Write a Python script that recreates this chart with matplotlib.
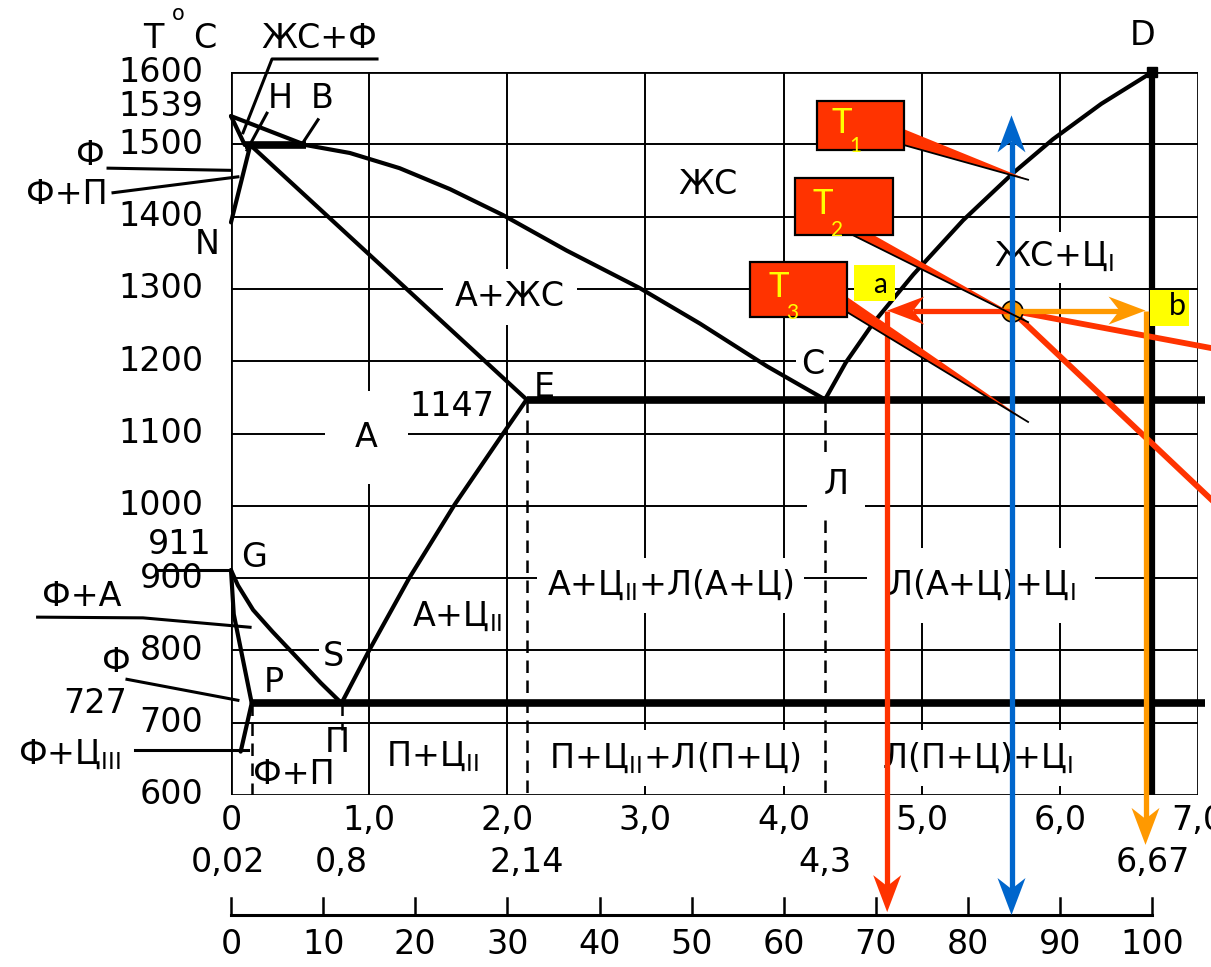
import matplotlib
matplotlib.use("Agg")
import matplotlib.pyplot as plt
import numpy as np
from matplotlib.patches import Polygon, Rectangle
from matplotlib.lines import Line2D
from matplotlib.transforms import IdentityTransform

plt.rcParams['font.family'] = ['DejaVu Sans']
plt.rcParams['mathtext.fontset'] = 'dejavusans'

# ---------------- data ----------------
temp_ticks = [1600, 1539, 1500, 1400, 1300, 1200, 1100, 1000, 911, 900, 800, 727, 700, 600]
c_ticks = [0, 1, 2, 3, 4, 5, 6, 7]
c_tick_labels = ['0', '1,0', '2,0', '3,0', '4,0', '5,0', '6,0', '7,0']
c_points = [0.02, 0.8, 2.14, 4.3, 6.67]
c_point_labels = ['0,02', '0,8', '2,14', '4,3', '6,67']
fe3c_ticks = [0, 10, 20, 30, 40, 50, 60, 70, 80, 90, 100]
fe3c_max_c = 6.67

grid_x = [1, 2, 3, 4, 5, 6]
grid_y = [700, 800, 900, 1000, 1100, 1200, 1300, 1400, 1500]

# phase boundaries (wt% C, deg C)
AB_x, AB_y = [0, 0.54], [1539, 1499]
AH_x, AH_y = [0, 0.10], [1539, 1499]
HB_x, HB_y = [0.10, 0.54], [1499, 1499]
NJ_x, NJ_y = [0, 0.14], [1392, 1499]
JE_x, JE_y = [0.14, 2.14], [1499, 1147]
BC_x = [0.54, 0.86, 1.22, 1.585, 1.97, 2.43, 2.96, 3.395, 3.88, 4.3]
BC_y = [1499, 1488, 1467, 1438, 1402, 1353, 1301, 1252, 1193, 1147]
CD_x = [4.3, 4.45, 4.65, 4.94, 5.3, 5.66, 5.95, 6.3, 6.67]
CD_y = [1147, 1198, 1253, 1320, 1395, 1460, 1507, 1556, 1600]
ES_x = [0.8, 1.0, 1.29, 1.62, 1.97, 2.14]
ES_y = [727, 800, 900, 1002, 1100, 1147]
GS_x = [0, 0.05, 0.16, 0.30, 0.478, 0.65, 0.8]
GS_y = [911, 890, 856, 826, 790, 755, 727]
GP_x, GP_y = [0, 0.02, 0.15], [911, 850, 727]
PQ_x, PQ_y = [0.15, 0.07], [727, 660]
ECF_x, ECF_y = [2.14, 7.05], [1147, 1147]
PSK_x, PSK_y = [0.15, 7.05], [727, 727]
DL_x, DL_y = [6.67, 6.67], [600, 1600]
dashed_E = ([2.14, 2.14], [1147, 600])
dashed_C = ([4.3, 4.3], [1147, 600])
dashed_P = ([0.15, 0.15], [727, 600])
dashed_S = ([0.8, 0.8], [727, 690])

# overlay (alloy analysis)
alloy_c = 5.65
T2 = 1270
liquid_c = 4.75          # point a
solid_c = 6.62           # point b
T_top = 1540
T_bottom_scale = 434
orange_tip = 531
leader_ends = [(7.10, 1218), (7.10, 1008)]
callouts = [  # label, box x0,x1,y0,y1, base pts, tip
    ('1', (4.24, 4.87, 1492, 1560), [(4.87, 1521), (4.87, 1499)], (5.77, 1451)),
    ('2', (4.08, 4.79, 1375, 1453), [(4.647, 1375), (4.495, 1375)], (5.77, 1254)),
    ('3', (3.76, 4.46, 1261, 1337), [(4.459, 1289), (4.459, 1268)], (5.77, 1116)),
]

RED = '#FF3300'
ORANGE = '#FF9900'
BLUE = '#0066CC'
YEL = '#FFFF00'

fig = plt.figure(figsize=(12.11, 9.67), dpi=100)
ax = fig.add_axes([231/1211, 1-795/967, 967/1211, 723/967])
ax.set_xlim(0, 7)
ax.set_ylim(600, 1600)
ax.set_axis_off()

K = 'black'
# frame
ax.plot([0, 7, 7, 0, 0], [600, 600, 1600, 1600, 600], color=K, lw=2.0, zorder=1,
        solid_joinstyle='miter')
# grid
for gx in grid_x:
    ax.plot([gx, gx], [600, 1600], color=K, lw=1.4, zorder=1)
for gy in grid_y:
    ax.plot([0, 7], [gy, gy], color=K, lw=1.4, zorder=1)

# phase lines
thin = 3.0
for xs, ys in [(AB_x, AB_y), (AH_x, AH_y), (NJ_x, NJ_y), (JE_x, JE_y), (BC_x, BC_y),
               (CD_x, CD_y), (ES_x, ES_y), (GS_x, GS_y), (GP_x, GP_y), (PQ_x, PQ_y)]:
    ax.plot(xs, ys, color=K, lw=thin, zorder=3, solid_capstyle='round',
            solid_joinstyle='round', clip_on=False)
for xs, ys in [(HB_x, HB_y), (ECF_x, ECF_y), (PSK_x, PSK_y)]:
    ax.plot(xs, ys, color=K, lw=5.5, zorder=3, solid_capstyle='butt', clip_on=False)
ax.plot(DL_x, DL_y, color=K, lw=4.5, zorder=3, solid_capstyle='butt')
ax.plot([6.67], [1600], marker='s', ms=7, color=K, zorder=3, clip_on=False)
for xs, ys in [dashed_E, dashed_C, dashed_P, dashed_S]:
    ax.plot(xs, ys, color=K, lw=1.8, ls=(0, (5, 3)), zorder=1.5)

FS = 24


def lab(x, y, s, pad=None, fs=FS, ha='center', va='center', **kw):
    bb = None
    if pad is not None:
        bb = dict(boxstyle=f'square,pad={pad}', fc='white', ec='none')
    ax.text(x, y, s, fontsize=fs, ha=ha, va=va, bbox=bb, zorder=2, clip_on=False, **kw)


# y tick labels
ytick_pos = {1539: 1552, 911: 946}
ytick_x = {911: -0.14, 727: -0.75}
for t in temp_ticks:
    lab(ytick_x.get(t, -0.20), ytick_pos.get(t, t), str(t), ha='right')
lab(-0.565, 1647, 'T')
lab(-0.384, 1680, 'o', fs=15)
lab(-0.188, 1647, 'C')

# x labels
for c, s in zip(c_ticks, c_tick_labels):
    lab(c, 565, s)
for c, s in zip(c_points, c_point_labels):
    lab(c if c > 0.1 else -0.02, 507, s)

# Fe3C scale
ax.plot([0, fe3c_max_c], [T_bottom_scale, T_bottom_scale], color=K, lw=2.2, clip_on=False)
for p in fe3c_ticks:
    cx = p * fe3c_max_c / 100
    ax.plot([cx, cx], [T_bottom_scale, T_bottom_scale + 24], color=K, lw=1.8, clip_on=False)
    lab(cx, 393, str(p))

# region labels
lab(3.45, 1444, 'ЖС')
lab(2.02, 1289, 'А+ЖС', pad=0.35)
lab(0.98, 1095, 'А', pad=0.9)
lab(2.27, 1163, 'E')
lab(1.60, 1137, '1147')
lab(4.21, 1195, 'C', pad=0.15)
lab(4.38, 1029, 'Л', pad=0.5)
lab(5.96, 1344, r'ЖС+Ц$_{\mathrm{I}}$', pad=0.25)
lab(6.60, 1650, 'D')
lab(0.167, 928, 'G')
lab(0.74, 791, 'S', pad=0.1)
lab(0.31, 756, 'P')
lab(0.77, 672, 'П')
lab(0.456, 628, 'Ф+П')
lab(1.64, 846, r'А+Ц$_{\mathrm{II}}$')
lab(1.455, 653, r'П+Ц$_{\mathrm{II}}$')
lab(3.18, 890, r'А+Ц$_{\mathrm{II}}$+Л(А+Ц)', pad=0.3)
lab(5.43, 890, r'Л(А+Ц)+Ц$_{\mathrm{I}}$', pad=0.6)
lab(3.21, 651, r'П+Ц$_{\mathrm{II}}$+Л(П+Ц)', pad=0.3)
lab(5.40, 651, r'Л(П+Ц)+Ц$_{\mathrm{I}}$', pad=0.3)
lab(-1.08, 874, 'Ф+А')
lab(-0.83, 783, 'Ф')
lab(-1.165, 655, r'Ф+Ц$_{\mathrm{III}}$')
lab(-1.02, 1485, 'Ф')
lab(-1.19, 1430, 'Ф+П')
lab(0.64, 1647, 'ЖС+Ф')
lab(0.355, 1564, 'H')
lab(0.66, 1564, 'B')
lab(-0.17, 1361, 'N')

# leader lines
for xs, ys in [([1.057, 0.297, 0.087], [1618, 1618, 1516]),
               ([0.26, 0.116], [1543, 1492]),
               ([0.63, 0.52], [1534, 1502]),
               ([-0.89, -0.007], [1467, 1464]),
               ([-0.854, 0.05], [1433, 1455]),
               ([-0.536, 0.0], [911, 911]),
               ([-1.40, -0.637, 0.138], [846, 845, 832]),
               ([-0.753, 0.05], [760, 731]),
               ([-0.695, 0.123], [662, 662])]:
    ax.plot(xs, ys, color=K, lw=2.2, zorder=3, clip_on=False)

# ---------------- overlay ----------------
HL, HW, NOTCH = 37, 14, 11
ID = IdentityTransform()


def head(tip_d, from_d, color, z):
    tip = ax.transData.transform(tip_d)
    frm = ax.transData.transform(from_d)
    u = tip - frm
    u = u / np.hypot(*u)
    n = np.array([-u[1], u[0]])
    pts = [tip, tip - HL*u + HW*n, tip - (HL-NOTCH)*u, tip - HL*u - HW*n]
    ax.add_artist(Polygon(pts, closed=True, fc=color, ec='none', transform=ID,
                          zorder=z, clip_on=False))


def arrow(p0, p1, color, lw=3.8, start=False, end=True, z=6):
    a = ax.transData.transform(p0)
    b = ax.transData.transform(p1)
    u = (b - a) / np.hypot(*(b - a))
    if start:
        a = a + (HL - NOTCH) * u
    if end:
        b = b - (HL - NOTCH) * u
    ax.add_artist(Line2D([a[0], b[0]], [a[1], b[1]], color=color, lw=lw, transform=ID,
                         solid_capstyle='butt', zorder=z, clip_on=False))
    if end:
        head(p1, p0, color, z)
    if start:
        head(p0, p1, color, z)


# leader red lines from point
for ex, ey in leader_ends:
    ax.plot([alloy_c, ex], [T2, ey], color=RED, lw=4.2, zorder=6, clip_on=False)
# verticals
arrow((liquid_c, T2), (liquid_c, T_bottom_scale + 4), RED, z=6)
arrow((solid_c, T2), (solid_c, orange_tip), ORANGE, z=6)
# horizontals
arrow((alloy_c, T2), (liquid_c, T2), RED, z=7)
arrow((alloy_c, T2), (solid_c, T2), ORANGE, z=7)
ax.plot([alloy_c], [T2], marker='o', ms=15, mfc=ORANGE, mec=K, mew=1.2, zorder=6.5,
        clip_on=False)
# blue alloy line
arrow((alloy_c, T_bottom_scale), (alloy_c, T_top), BLUE, start=True, z=8)

# callouts
for sub, (x0, x1, y0, y1), base, tip in callouts:
    ax.add_patch(Polygon([base[0], tip, base[1]], closed=True, fc=RED, ec='none', zorder=9))
    ax.plot([base[1][0], tip[0]], [base[1][1], tip[1]], color=K, lw=1.3, zorder=9.1)
    ax.add_patch(Rectangle((x0, y0), x1 - x0, y1 - y0, fc=RED, ec=K, lw=1.6, zorder=9.2))
    tx = x0 + 0.29 * (x1 - x0)
    ax.text(tx, y0 + 0.55 * (y1 - y0), 'T', color=YEL, fontsize=25, family='Lato',
            ha='center', va='center', zorder=9.5)
    ax.text(tx + 0.10, y0 + 0.08 * (y1 - y0), sub, color=YEL, fontsize=15, family='Lato',
            ha='center', va='center', zorder=9.5)

# a / b marks
ax.add_patch(Rectangle((4.51, 1283), 0.30, 50, fc=YEL, ec='none', zorder=9, clip_on=False))
ax.text(4.70, 1306, 'a', fontsize=20, family='Lato', ha='center', va='center', zorder=9.5)
ax.add_patch(Rectangle((6.65, 1249), 0.285, 49, fc=YEL, ec='none', zorder=9, clip_on=False))
ax.text(6.85, 1276, 'b', fontsize=22, family='Lato', ha='center', va='center', zorder=9.5,
        clip_on=False)

fig.savefig('out.png', dpi=100)
